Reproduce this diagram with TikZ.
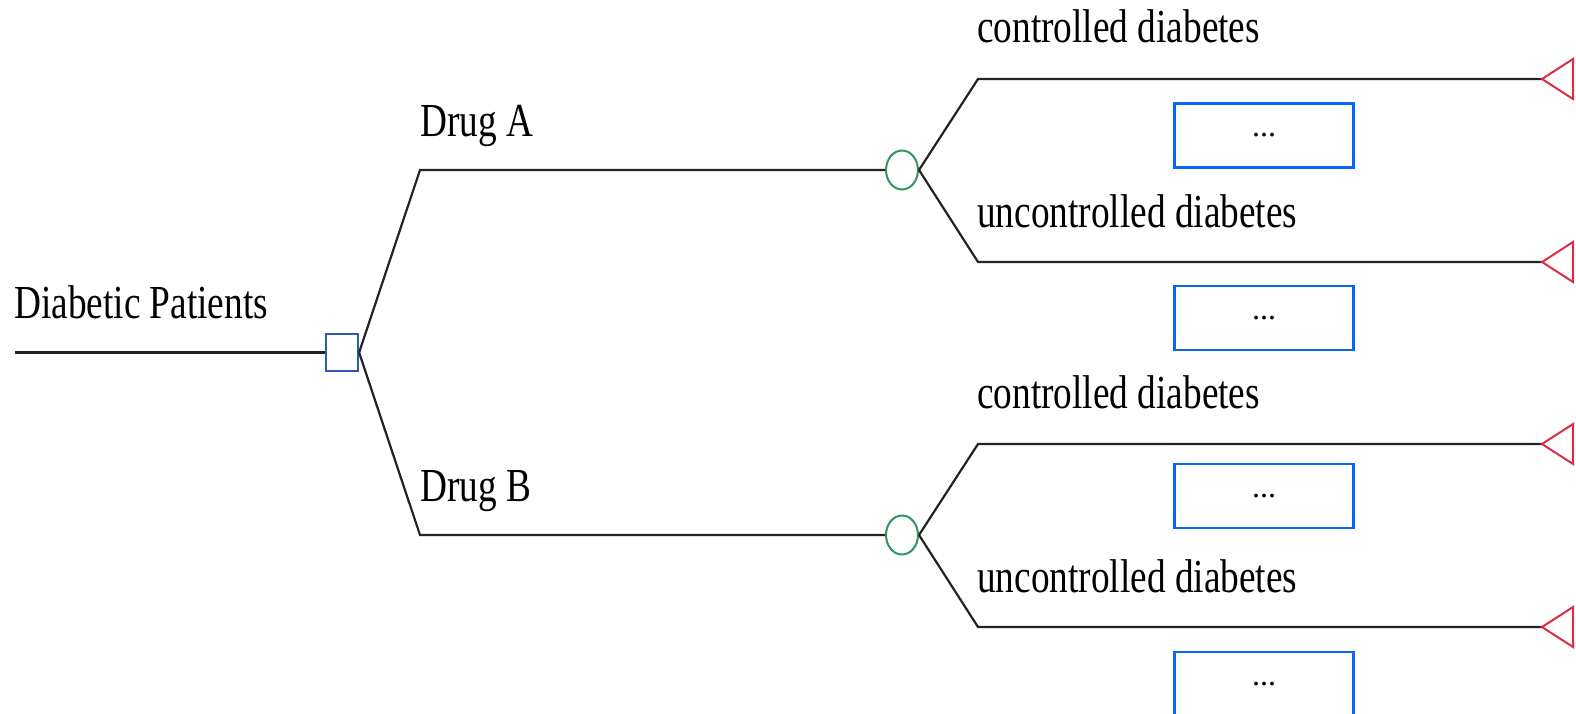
\documentclass[tikz,border=0pt]{standalone}
\usepackage{fontspec}
\setmainfont{Liberation Serif}
\usepackage{graphicx}
\usetikzlibrary{shapes.geometric}
\definecolor{edge}{RGB}{35,35,35}
\definecolor{decblue}{RGB}{50,85,185}
\definecolor{chgreen}{RGB}{50,150,100}
\definecolor{termred}{RGB}{220,45,70}
\definecolor{boxblue}{RGB}{10,100,255}
\newcommand\tallText[1]{\scalebox{1}[1.27]{#1}}
\begin{document}
\begin{tikzpicture}[x=1pt,y=-1pt,
  branch/.style={draw=edge,line width=2.2pt},
  lab/.style={anchor=base west,inner sep=0,font=\fontsize{37.3}{40}\selectfont},
  decision/.style={draw=decblue,line width=2.2pt,fill=white,minimum width=32pt,minimum height=37pt,inner sep=0},
  chance/.style={ellipse,draw=chgreen,line width=2pt,fill=white,minimum width=32pt,minimum height=39pt,inner sep=0},
  term/.style={draw=termred,line width=2pt,line join=miter},
  valbox/.style={draw=boxblue,line width=2.8pt,minimum width=179pt,minimum height=64pt,inner sep=0,font=\fontsize{32}{32}\selectfont}
]
\useasboundingbox (0,0) rectangle (1576,714);
% nodes
\coordinate (root) at (15,352.5);
\node[decision] (d) at (342,352.5) {};
\node[chance] (cA) at (902,170) {};
\node[chance] (cB) at (902,535) {};
\coordinate (eA) at (420,170);
\coordinate (eB) at (420,535);
\coordinate (o1) at (978,79);
\coordinate (o2) at (978,262);
\coordinate (o3) at (978,444);
\coordinate (o4) at (978,627);
\coordinate (t1) at (1542,79);
\coordinate (t2) at (1542,262);
\coordinate (t3) at (1542,444);
\coordinate (t4) at (1542,627);
% connectors
\draw[branch] (root) -- (d.west);
\draw[branch] (d.east) -- (eA) -- (cA.west);
\draw[branch] (d.east) -- (eB) -- (cB.west);
\draw[branch] (cA.east) -- (o1) -- (t1);
\draw[branch] (cA.east) -- (o2) -- (t2);
\draw[branch] (cB.east) -- (o3) -- (t3);
\draw[branch] (cB.east) -- (o4) -- (t4);
% terminal triangles
\foreach \t in {t1,t2,t3,t4}{
  \draw[term] (\t) -- ++(31,-20) -- ++(0,40) -- cycle;
}
% labels
\node[lab] (lRoot) at (14,318) {\tallText{Diabetic Patients}};
\node[lab] (lA) at (420,137) {\tallText{Drug A}};
\node[lab] (lB) at (420,501) {\tallText{Drug B}};
\node[lab] (l1) at (977,43) {\tallText{controlled diabetes}};
\node[lab] (l2) at (977,227) {\tallText{uncontrolled diabetes}};
\node[lab] (l3) at (977,408) {\tallText{controlled diabetes}};
\node[lab] (l4) at (977,592) {\tallText{uncontrolled diabetes}};
% value boxes
\node[valbox] (b1) at (1264,135.5) {...};
\node[valbox] (b2) at (1264,318) {...};
\node[valbox] (b3) at (1264,496) {...};
\node[valbox] (b4) at (1264,684) {...};
\end{tikzpicture}
\end{document}
